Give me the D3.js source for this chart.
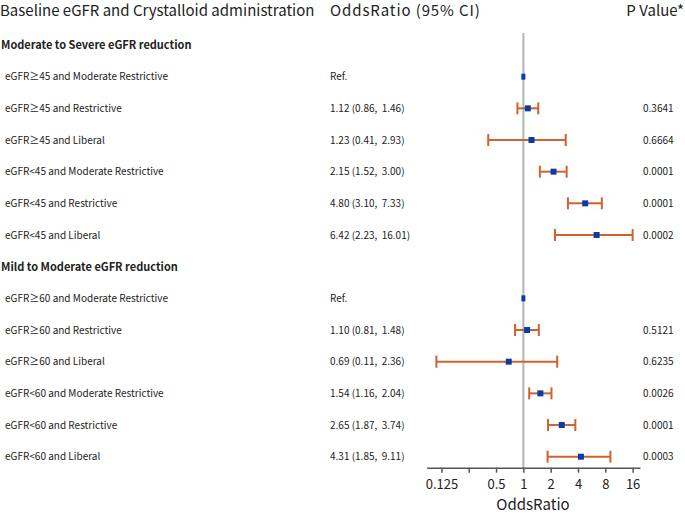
<!DOCTYPE html>
<html>
<head>
<meta charset="utf-8">
<script src="https://cdn.jsdelivr.net/npm/d3@7"></script>
<style>
  body { margin: 0; background: #fff; }
  text { font-family: "Noto Sans CJK JP", "Noto Sans", sans-serif; fill: #222; }
</style>
</head>
<body>
<svg id="chart" width="685" height="516"></svg>
<script>
// rows top to bottom, headers have no estimate
var rowLabels = [
    "Moderate to Severe eGFR reduction",
    "eGFR≥45 and Moderate Restrictive",
    "eGFR≥45 and Restrictive",
    "eGFR≥45 and Liberal",
    "eGFR<45 and Moderate Restrictive",
    "eGFR<45 and Restrictive",
    "eGFR<45 and Liberal",
    "Mild to Moderate eGFR reduction",
    "eGFR≥60 and Moderate Restrictive",
    "eGFR≥60 and Restrictive",
    "eGFR≥60 and Liberal",
    "eGFR<60 and Moderate Restrictive",
    "eGFR<60 and Restrictive",
    "eGFR<60 and Liberal"
]
var isHeader = [true, false, false, false, false, false, false, true, false, false, false, false, false, false]
var oddsRatio = [null, 1, 1.12, 1.23, 2.15, 4.80, 6.42, null, 1, 1.10, 0.69, 1.54, 2.65, 4.31]
var ciLow = [null, null, 0.86, 0.41, 1.52, 3.10, 2.23, null, null, 0.81, 0.11, 1.16, 1.87, 1.85]
var ciHigh = [null, null, 1.46, 2.93, 3.00, 7.33, 16.01, null, null, 1.48, 2.36, 2.04, 3.74, 9.11]
var pValues = ["", "", "0.3641", "0.6664", "0.0001", "0.0001", "0.0002", "", "", "0.5121", "0.6235", "0.0026", "0.0001", "0.0003"]
var tickValues = [0.125, 0.25, 0.5, 1, 2, 4, 8, 16]
var tickLabels = ["0.125", "", "0.5", "1", "2", "4", "8", "16"]

var svg = d3.select("#chart")

var rows = rowLabels.map(function(d, i) {
    return {
        label: d, header: isHeader[i], or: oddsRatio[i],
        lo: ciLow[i], hi: ciHigh[i], p: pValues[i], i: i
    }
})

var y = d3.scalePoint()
    .domain(d3.range(rows.length))
    .range([45, 456.7])

var x = d3.scaleLog()
    .base(2)
    .domain([0.086, 19.3])
    .range([426.7, 640])

var axisY = 467.7

// column titles
svg.append("text").attr("x", 0).attr("y", 16)
    .style("font-size", "15px").text("Baseline eGFR and Crystalloid administration")
svg.append("text").attr("x", 330).attr("y", 16)
    .style("font-size", "15px").style("letter-spacing", "0.9px").text("OddsRatio (95% CI)")
svg.append("text").attr("x", 684).attr("y", 16).attr("text-anchor", "end")
    .style("font-size", "15px").text("P Value*")

// reference line at OR = 1
svg.append("line")
    .attr("x1", x(1)).attr("x2", x(1))
    .attr("y1", 33).attr("y2", axisY)
    .attr("stroke", "#b4b4b4").attr("stroke-width", 2)

// row labels
svg.selectAll(".row_label")
    .data(rows)
    .enter()
    .append("text")
    .attr("class", "row_label")
    .attr("x", function(d) { return d.header ? 1 : 5 })
    .attr("y", function(d) { return y(d.i) })
    .attr("dy", "0.35em")
    .style("font-size", function(d) { return d.header ? "11px" : "10px" })
    .style("font-weight", function(d) { return d.header ? "bold" : "normal" })
    .text(function(d) { return d.label })

var est = rows.filter(function(d) { return d.or != null })

// OR (95% CI) text
svg.selectAll(".or_text")
    .data(est)
    .enter()
    .append("text")
    .attr("class", "or_text")
    .attr("x", 330)
    .attr("y", function(d) { return y(d.i) })
    .attr("dy", "0.35em")
    .style("font-size", "10px")
    .style("white-space", "pre")
    .text(function(d) {
        if (d.lo == null) return "Ref."
        return d.or.toFixed(2) + " (" + d.lo.toFixed(2) + ",  " + d.hi.toFixed(2) + ")"
    })

svg.selectAll(".p_text")
    .data(est)
    .enter()
    .append("text")
    .attr("class", "p_text")
    .attr("x", 643)
    .attr("y", function(d) { return y(d.i) })
    .attr("dy", "0.35em")
    .style("font-size", "10px")
    .text(function(d) { return d.p })

// confidence intervals
var ci = est.filter(function(d) { return d.lo != null })
var whisker = "#d4602e"

svg.selectAll(".ci_line")
    .data(ci)
    .enter()
    .append("line")
    .attr("x1", function(d) { return x(d.lo) })
    .attr("x2", function(d) { return x(d.hi) })
    .attr("y1", function(d) { return y(d.i) })
    .attr("y2", function(d) { return y(d.i) })
    .attr("stroke", whisker).attr("stroke-width", 2)

;["lo", "hi"].forEach(function(k) {
    svg.selectAll(".cap_" + k)
        .data(ci)
        .enter()
        .append("line")
        .attr("x1", function(d) { return x(d[k]) })
        .attr("x2", function(d) { return x(d[k]) })
        .attr("y1", function(d) { return y(d.i) - 6 })
        .attr("y2", function(d) { return y(d.i) + 6 })
        .attr("stroke", whisker).attr("stroke-width", 2)
})

// point estimates
svg.selectAll(".est_mark")
    .data(est)
    .enter()
    .append("rect")
    .attr("x", function(d) { return x(d.or) - (d.lo == null ? 2 : 3) })
    .attr("y", function(d) { return y(d.i) - 3 })
    .attr("width", function(d) { return d.lo == null ? 4 : 6 })
    .attr("height", 6)
    .attr("fill", "#0a3ca8")

// x axis
var axis = d3.axisBottom(x)
    .tickValues(tickValues)
    .tickFormat(function(d, i) { return tickLabels[i] })
    .tickSize(5)
    .tickSizeOuter(0)

var gAxis = svg.append("g")
    .attr("transform", "translate(0," + axisY + ")")
    .call(axis)
gAxis.select(".domain").attr("stroke", "#555").attr("stroke-width", 1.5)
gAxis.selectAll(".tick line").attr("stroke", "#555").attr("stroke-width", 1.5)
gAxis.selectAll(".tick text")
    .attr("y", 12)
    .style("font-size", "13px")
    .style("font-family", "\"Noto Sans CJK JP\", \"Noto Sans\", sans-serif")
    .attr("fill", "#222")

svg.append("text")
    .attr("x", 533).attr("y", 510)
    .attr("text-anchor", "middle")
    .style("font-size", "15px")
    .text("OddsRatio")
</script>
</body>
</html>
